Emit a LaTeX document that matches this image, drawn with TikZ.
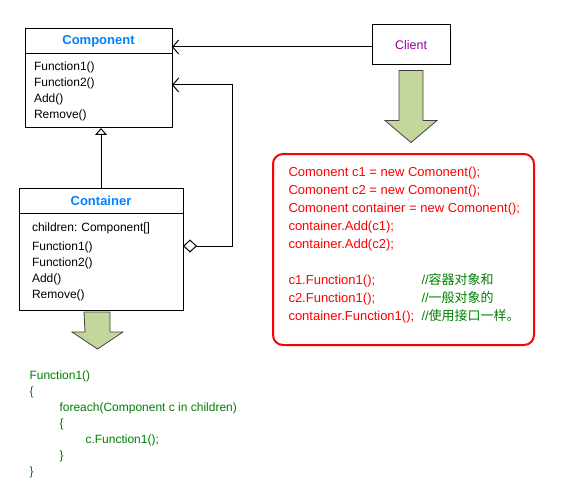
\documentclass[tikz,border=0pt]{standalone}
\usepackage{fontspec}
\setmainfont{Liberation Sans}
\newfontfamily\cjk{Noto Sans CJK SC}
\usepackage{xcolor}
\usetikzlibrary{arrows,arrows.meta,positioning,calc}
\frenchspacing

\definecolor{titleblue}{RGB}{0,128,255}
\definecolor{clientpurple}{RGB}{153,0,153}
\definecolor{arrowfill}{RGB}{195,214,155}
\definecolor{codegreen}{RGB}{0,128,0}

\begin{document}
\begin{tikzpicture}[x=1pt,y=-1pt,line width=1pt,
font=\fontsize{12}{16}\selectfont]

\tikzstyle{classhead}=[rectangle, draw, outer sep=0pt, inner sep=0pt,
minimum height=25pt, text=titleblue, font=\fontsize{13}{16}\selectfont\bfseries]

\tikzstyle{classbody}=[rectangle, draw, outer sep=0pt, inner ysep=0pt, align=left]

\tikzstyle{clientbox}=[rectangle, draw, minimum width=78pt, minimum height=40pt,
text=clientpurple, font=\fontsize{12.5}{16}\selectfont]

\tikzstyle{codebox}=[rectangle, draw=red, line width=2pt, rounded corners=10pt,
minimum width=261pt, minimum height=191pt]

\tikzstyle{redcode}=[align=left, inner sep=0pt, text=red, font=\fontsize{13}{18}\selectfont]
\tikzstyle{greencode}=[align=left, inner sep=0pt, text=codegreen]

\tikzstyle{blockarrow}=[fill=arrowfill, draw=black!75, line width=0.8pt]

\tikzstyle{uses}=[-{Straight Barb[length=6pt,width=14pt]}]
\tikzstyle{inherit}=[-{Triangle[open,length=7pt,width=12pt]}]
\tikzstyle{aggregation}=[{Straight Barb[length=6pt,width=14pt]}-{Diamond[open,length=14pt,width=13pt]}]

\useasboundingbox (0,0) rectangle (562,492);

% component class
\node[classhead, minimum width=147pt]
(comp) at (98.5,41.5)
{Component};

\node[classbody, minimum width=147pt, minimum height=74pt, text width=129pt, inner xsep=9pt]
(compbody) [below=0pt of comp]
{Function1()\\Function2()\\Add()\\Remove()};

% container class
\node[classhead, minimum width=164pt]
(cont) at (101,200.5)
{Container};

\node[classbody, minimum width=164pt, minimum height=97pt, text width=138pt, inner xsep=13pt]
(contbody) [below=0pt of cont]
{children: Component[]\\[3pt]Function1()\\Function2()\\Add()\\Remove()};

% client
\node[clientbox]
(client) at (411,45)
{Client};

% usage box
\node[codebox]
(usage) at (403.5,249.5)
{};

% (base = last line)
\node[redcode, anchor=base west]
(calls) at (288,320)
{Comonent c1 = new Comonent();\\
Comonent c2 = new Comonent();\\
Comonent container = new Comonent();\\
container.Add(c1);\\
container.Add(c2);\\[18pt]
c1.Function1();\\
c2.Function1();\\
container.Function1();};

\node[redcode, text=codegreen, anchor=base west]
(notes) at (421,320)
{//{\cjk 容器对象和}\\
//{\cjk 一般对象的}\\
//{\cjk 使用接口一样。}};

% container implementation
\node[greencode, anchor=base west]
(impl) at (29,475)
{Function1()\\
\{\\
\hspace*{30pt}foreach(Component c in children)\\
\hspace*{30pt}\{\\
\hspace*{56pt}c.Function1();\\
\hspace*{30pt}\}\\
\}};

% big arrows
\draw[blockarrow] ($(client.south)+(-12,5)$) -- ++(24,0) -- ++(0,50) -- ++(14,0)
-- ++(-26,22) -- ++(-26,-22) -- ++(14,0) -- cycle;
\draw[blockarrow] ($(contbody.south)+(-17,2)$) -- ++(26,0) -- ++(0,20) -- ++(13,0)
-- ++(-25.5,17) -- ++(-25.5,-17) -- ++(13,0) -- cycle;

% connectors
\coordinate (clientout) at ([yshift=-2pt]client.west);
\coordinate (compin) at ([yshift=6pt]compbody.east);
\coordinate (contout) at ([yshift=15.5pt]contbody.east);

\draw[uses] (clientout) -- (clientout -| comp.east);
\draw[inherit] (cont) -- (cont |- compbody.south);
\draw[aggregation] (compin) -| ($(contout)+(49,0)$) -- (contout);

\end{tikzpicture}
\end{document}
